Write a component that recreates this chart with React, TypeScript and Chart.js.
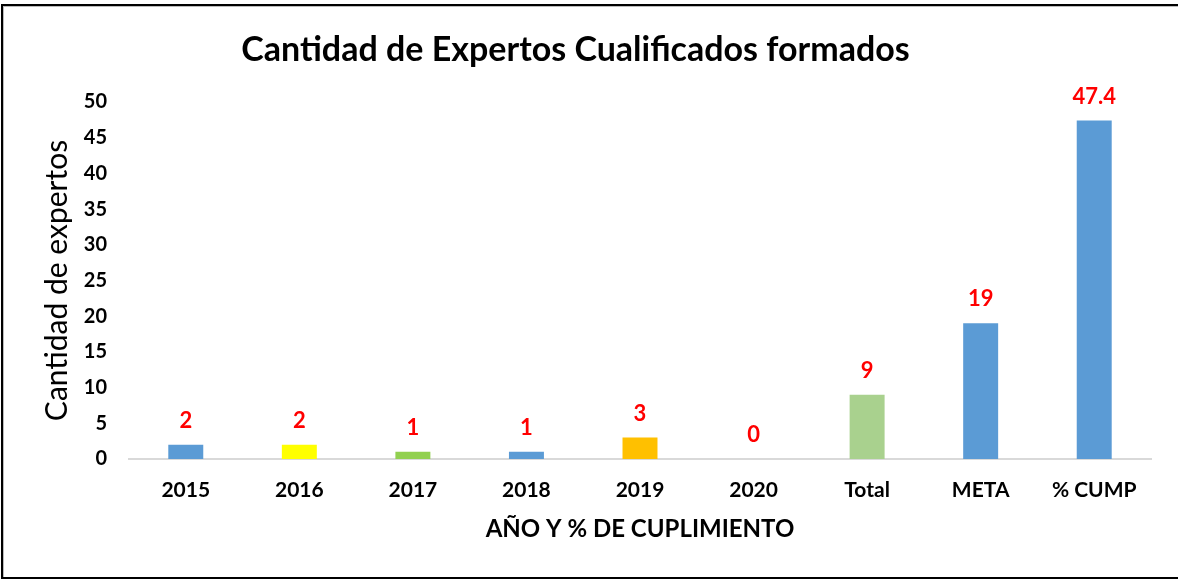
import React, { useEffect, useRef } from "react";
import { Chart, registerables } from "chart.js";

Chart.register(...registerables);

const categories = ["2015", "2016", "2017", "2018", "2019", "2020", "Total", "META", "% CUMP"];
const values = [2, 2, 1, 1, 3, 0, 9, 19, 47.4];
const barColors = ["#5B9BD5", "#FFFF00", "#92D050", "#5B9BD5", "#FFC000", "#5B9BD5", "#A9D18E", "#5B9BD5", "#5B9BD5"];
const valueLabels = ["2", "2", "1", "1", "3", "0", "9", "19", "47.4"];
const chartTitle = "Cantidad de Expertos Cualificados formados";
const xTitle = "AÑO Y % DE CUPLIMIENTO";
const yTitle = "Cantidad de expertos";

const FONT = "Lato, 'Open Sans', sans-serif";

const dataLabelPlugin = {
  id: "dataLabels",
  afterDatasetsDraw(chart: any) {
    const ctx = chart.ctx;
    const meta = chart.getDatasetMeta(0);
    ctx.save();
    ctx.fillStyle = "#FF0000";
    ctx.font = `bold 22px ${FONT}`;
    ctx.textAlign = "center";
    ctx.textBaseline = "middle";
    meta.data.forEach((el: any, i: number) => {
      ctx.fillText(valueLabels[i], el.x, el.y - 24);
    });
    ctx.restore();
  },
};

export default function App() {
  const ref = useRef<HTMLCanvasElement>(null);
  useEffect(() => {
    if (!ref.current) return;
    const chart = new Chart(ref.current, {
      type: "bar",
      data: {
        labels: categories,
        datasets: [
          {
            data: values,
            backgroundColor: barColors,
            categoryPercentage: 1,
            barPercentage: 0.308,
          },
        ],
      },
      options: {
        animation: false,
        responsive: true,
        maintainAspectRatio: false,
        layout: { padding: { left: 0, right: 27, top: 0, bottom: 0 } },
        plugins: {
          legend: { display: false },
          tooltip: { enabled: false },
          title: {
            display: true,
            text: chartTitle,
            color: "#000",
            font: { family: FONT, size: 34, weight: "bold" },
            padding: { top: 29.6, bottom: 31.6 },
          },
        },
        scales: {
          x: {
            grid: { display: false, drawTicks: false },
            border: { display: true, color: "#D9D9D9", width: 2 },
            ticks: {
              color: "#000",
              font: { family: FONT, size: 21, weight: "bold" },
              padding: 19,
              maxRotation: 0,
            },
            title: {
              display: true,
              text: xTitle,
              color: "#000",
              font: { family: FONT, size: 24, weight: "bold" },
              padding: { top: 0, bottom: 36.6 },
            },
            afterFit(scale: any) {
              scale.height = 121;
            },
          },
          y: {
            min: 0,
            max: 50,
            grid: { display: false, drawTicks: false },
            border: { display: false },
            ticks: {
              stepSize: 5,
              color: "#000",
              font: { family: FONT, size: 20, weight: "bold" },
              padding: 22,
            },
            title: {
              display: true,
              text: yTitle,
              color: "#000",
              font: { family: FONT, size: 30, weight: "normal" },
              padding: { top: 39, bottom: 0 },
            },
            afterFit(scale: any) {
              scale.width = 129;
            },
          },
        },
      },
      plugins: [dataLabelPlugin],
    });
    return () => chart.destroy();
  }, []);

  return (
    <div style={{ position: "fixed", left: 0, top: 0, width: 1178, height: 580, background: "#fff", overflow: "hidden" }}>
      <canvas ref={ref} />
      <div
        style={{
          position: "absolute",
          left: 1,
          top: 4,
          width: 1250,
          height: 575,
          boxSizing: "border-box",
          border: "2px solid #000",
          boxShadow: "inset 1px 1px 0 #BBBBBB",
          pointerEvents: "none",
        }}
      />
    </div>
  );
}
